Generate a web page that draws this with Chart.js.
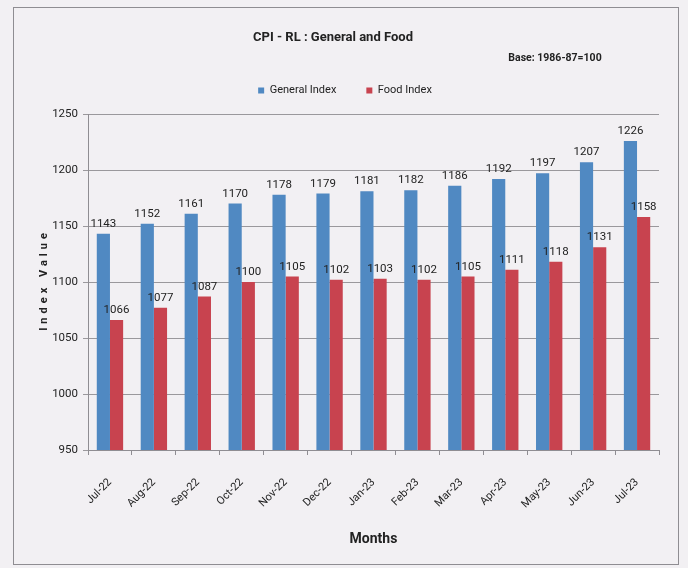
<!DOCTYPE html>
<html>
<head>
<meta charset="utf-8">
<script src="https://cdn.jsdelivr.net/npm/chart.js@4.4.1/dist/chart.umd.min.js"></script>
<style>
  html, body { margin: 0; padding: 0; background: #f2f0f3; }
  #wrap { width: 688px; height: 568px; }
</style>
</head>
<body>
<div id="wrap"><canvas id="graficoBarras" width="688" height="568"></canvas></div>
<script>
// datos del gráfico
const months = ['Jul-22','Aug-22','Sep-22','Oct-22','Nov-22','Dec-22','Jan-23','Feb-23','Mar-23','Apr-23','May-23','Jun-23','Jul-23']
const generalIndex = [1143,1152,1161,1170,1178,1179,1181,1182,1186,1192,1197,1207,1226]
const foodIndex = [1066,1077,1087,1100,1105,1102,1103,1102,1105,1111,1118,1131,1158]
const yTicks = [950,1000,1050,1100,1150,1200,1250]

const FONT = "Roboto, 'Liberation Sans', sans-serif"

// fondo, marco y textos extra
const decoPlugin = {
  id: 'deco',
  beforeUpdate(chart) {
    const lg = chart.legend
    if (lg && !lg._patched) {
      lg._patched = true
      const fit = lg.fit
      lg.fit = function () { fit.call(this); this.height += 8 }
      const draw = lg.draw
      lg.draw = function () {
        this.ctx.save()
        this.ctx.translate(9, 0)
        draw.call(this)
        this.ctx.restore()
      }
    }
  },
  beforeDraw(chart) {
    const ctx = chart.ctx
    ctx.save()
    ctx.fillStyle = '#f2f0f3'
    ctx.fillRect(0, 0, chart.width, chart.height)
    ctx.strokeStyle = '#8f8d92'
    ctx.lineWidth = 1
    ctx.strokeRect(13.5, 7.5, 665, 557)
    ctx.fillStyle = '#222'
    ctx.textAlign = 'center'
    ctx.textBaseline = 'middle'
    ctx.font = 'bold 13px ' + FONT
    ctx.fillText('CPI - RL : General and Food', 333, 38)
    ctx.font = 'bold 10.5px ' + FONT
    ctx.fillText('Base: 1986-87=100', 555, 58)
    // titulo eje y con espaciado
    const a = chart.chartArea
    ctx.translate(44, (a.top + a.bottom) / 2)
    ctx.rotate(-Math.PI / 2)
    ctx.letterSpacing = '4px'
    ctx.font = 'bold 11px ' + FONT
    ctx.fillText('Index Value', 2, 0)
    ctx.restore()
  },
  afterDatasetsDraw(chart) {
    const ctx = chart.ctx
    ctx.save()
    ctx.font = '11.5px ' + FONT
    ctx.fillStyle = '#222'
    ctx.textAlign = 'center'
    ctx.textBaseline = 'bottom'
    chart.data.datasets.forEach((ds, i) => {
      chart.getDatasetMeta(i).data.forEach((bar, j) => {
        ctx.fillText(ds.data[j], bar.x, bar.y - 4)
      })
    })
    ctx.restore()
  }
}

let barChart = new Chart(document.getElementById('graficoBarras'), {
  type: 'bar',
  data: {
    labels: months,
    datasets: [
      { label: 'General Index', data: generalIndex, backgroundColor: '#5089c2' },
      { label: 'Food Index', data: foodIndex, backgroundColor: '#c8434f' }
    ]
  },
  options: {
    responsive: false,
    animation: false,
    categoryPercentage: 0.6,
    barPercentage: 1.0,
    layout: { padding: { left: 13, right: 29, top: 55, bottom: 20 } },
    plugins: {
      title: { display: false },
      tooltip: { enabled: false },
      legend: {
        position: 'top',
        labels: {
          boxWidth: 6, boxHeight: 6, padding: 30,
          color: '#222',
          font: { family: FONT, size: 11 }
        }
      }
    },
    scales: {
      x: {
        grid: { drawOnChartArea: false, drawTicks: true, tickLength: 5, color: '#8f8d92' },
        border: { color: '#8f8d92' },
        ticks: { minRotation: 45, maxRotation: 45, padding: 21, color: '#222', font: { family: FONT, size: 11 } },
        title: { display: true, text: 'Months', color: '#222', font: { family: FONT, size: 14, weight: 'bold' }, padding: { top: 0, bottom: 0 } },
        afterFit(scale) { scale.height = 98 }
      },
      y: {
        min: 950, max: 1250,
        afterBuildTicks(scale) { scale.ticks = yTicks.map(v => ({ value: v })) },
        grid: { color: '#9a989c', tickLength: 5 },
        border: { color: '#8f8d92' },
        ticks: { padding: 5, color: '#222', font: { family: FONT, size: 11.5 }, callback: v => String(v) },
        afterFit(scale) { scale.width = 75 }
      }
    }
  },
  plugins: [decoPlugin]
})
</script>
</body>
</html>
